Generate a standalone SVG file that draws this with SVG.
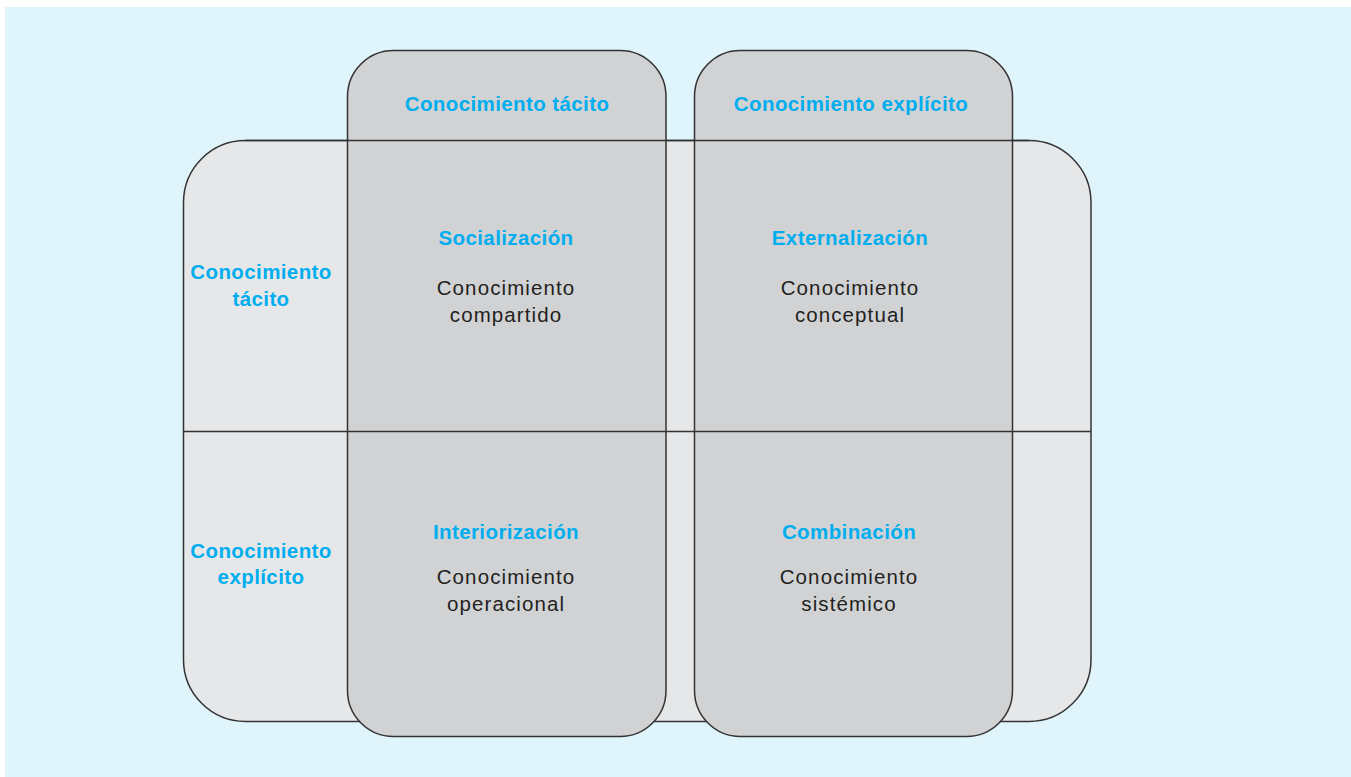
<svg xmlns="http://www.w3.org/2000/svg" width="1351" height="777" viewBox="0 0 1351 777">
  <style>
    .band{fill:#E6E7E8;stroke:#333;stroke-width:1.5}
    .col{fill:#D1D2D4;stroke:#333;stroke-width:1.5}
    .ln{stroke:#333;stroke-width:1.5;fill:none}
    .h{font-family:"Liberation Sans",Arial,sans-serif;font-weight:bold;font-size:20.5px;fill:#00AEEF;text-anchor:middle;letter-spacing:0.4px}
    .t{font-family:"Liberation Sans",Arial,sans-serif;font-size:20.5px;fill:#231F20;text-anchor:middle;letter-spacing:1.1px}
  </style>
  <rect x="5" y="7" width="1346" height="770" fill="#E0F4FB"/>
  <g id="band">
    <rect class="band" x="183.5" y="140.5" width="907.5" height="581" rx="62" ry="62"/>
  </g>
  <g id="col-tacito">
    <rect class="col" x="347.5" y="50.5" width="318.5" height="686" rx="46" ry="46"/>
  </g>
  <g id="col-explicito">
    <rect class="col" x="694.5" y="50.5" width="318" height="686" rx="46" ry="46"/>
  </g>
  <g id="connectors">
    <line class="ln" x1="245" y1="140.5" x2="1029" y2="140.5"/>
    <line class="ln" x1="183.5" y1="431.5" x2="1091" y2="431.5"/>
  </g>
  <g id="header-tacito"><text class="h" x="507" y="111">Conocimiento tácito</text></g>
  <g id="header-explicito"><text class="h" x="851" y="111">Conocimiento explícito</text></g>
  <g id="row-tacito"><text class="h" x="261" y="279">Conocimiento</text><text class="h" x="261" y="306">tácito</text></g>
  <g id="row-explicito"><text class="h" x="261" y="558">Conocimiento</text><text class="h" x="261" y="584">explícito</text></g>
  <g id="socializacion">
    <text class="h" x="506" y="245">Socialización</text>
    <text class="t" x="506" y="295">Conocimiento</text>
    <text class="t" x="506" y="322">compartido</text>
  </g>
  <g id="externalizacion">
    <text class="h" x="850" y="245">Externalización</text>
    <text class="t" x="850" y="295">Conocimiento</text>
    <text class="t" x="850" y="322">conceptual</text>
  </g>
  <g id="interiorizacion">
    <text class="h" x="506" y="539">Interiorización</text>
    <text class="t" x="506" y="584">Conocimiento</text>
    <text class="t" x="506" y="611">operacional</text>
  </g>
  <g id="combinacion">
    <text class="h" x="849" y="539">Combinación</text>
    <text class="t" x="849" y="584">Conocimiento</text>
    <text class="t" x="849" y="611">sistémico</text>
  </g>
</svg>
